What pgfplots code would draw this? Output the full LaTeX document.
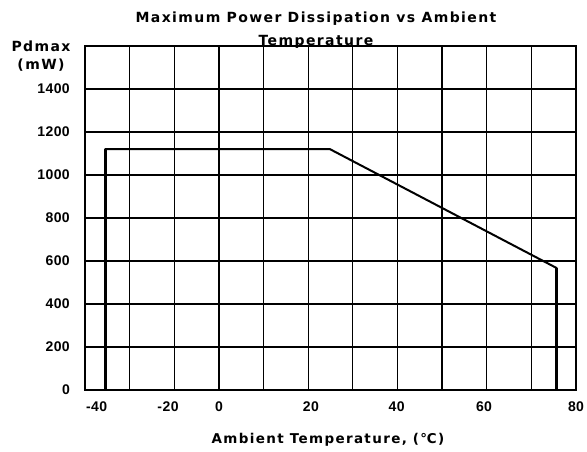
\documentclass[border=0pt]{standalone}
\usepackage{fontspec}
\setmainfont{Liberation Sans}
\newfontfamily\spacedfont{DejaVu Sans}[LetterSpace=10]
\newfontfamily\numfont{Liberation Sans}[LetterSpace=3]
\usepackage{pgfplots}
\pgfplotsset{compat=1.18}
\begin{document}
\begin{tikzpicture}
\useasboundingbox (0,0) rectangle (587bp,452bp);
\begin{axis}[
  at={(85bp,62bp)}, anchor=south west,
  scale only axis, width=491bp, height=344bp,
  xmin=-30, xmax=80, ymin=0, ymax=1600,
  xtick={-27.4,-11.4,0,20.6,39.8,59.4,80},
  xticklabels={-40,-20,0,20,40,60,80},
  minor xtick={-20,-10,...,70},
  xminorgrids=true, xmajorgrids=false,
  ytick={0,200,...,1400},
  yticklabel={\pgfmathprintnumber[assume math mode=true,1000 sep={}]{\tick}\hspace*{15bp}},
  ymajorgrids=true,
  major tick length=0pt, minor tick length=0pt,
  ticklabel style={font=\numfont\bfseries\fontsize{14bp}{16bp}\selectfont, inner sep=0pt},
  xticklabel style={anchor=center, yshift=-17bp},
  yticklabel style={anchor=east},
  grid style={black, line width=1.2bp},
  minor grid style={black, line width=1.2bp},
  axis line style={black, line width=1.5bp},
  title={Maximum Power Dissipation vs Ambient\\[6bp]Temperature},
  title style={at={(axis description cs:0.5,1)}, anchor=north, yshift=28bp, xshift=-14.5bp, inner sep=0pt, align=center, font=\spacedfont\bfseries\fontsize{14bp}{17bp}\selectfont},
  xlabel={Ambient Temperature, (℃)},
  xlabel style={at={(axis description cs:0.5,0)}, anchor=base, yshift=-53bp, xshift=-2.5bp, inner sep=0pt, font=\spacedfont\bfseries\fontsize{13.5bp}{17bp}\selectfont},
  ylabel={Pdmax\\(mW)},
  ylabel style={rotate=-90, at={(axis description cs:0,1)}, anchor=north, align=center, inner sep=0pt, xshift=-44bp, yshift=5.5bp, font=\spacedfont\bfseries\fontsize{14bp}{18.3bp}\selectfont},
]
\addplot[black, line width=2bp, line join=miter] coordinates {(-25.4,0) (-25.4,1120) (24.9,1120) (75.6,568) (75.6,0)};
\addplot[black, line width=2.8bp] coordinates {(-25.4,0) (-25.4,1120)};
\addplot[black, line width=2.8bp] coordinates {(75.6,0) (75.6,568)};
\end{axis}
\end{tikzpicture}
\end{document}
